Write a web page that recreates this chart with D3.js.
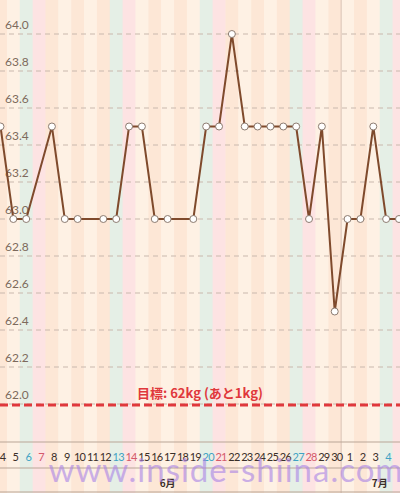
<!DOCTYPE html>
<html><head><meta charset="utf-8">
<script src="https://cdn.jsdelivr.net/npm/d3@7"></script>
<style>body{margin:0;background:#fff}svg{display:block;font-family:"Noto Sans CJK JP",sans-serif}</style>
</head><body>
<svg id="chart" width="400" height="493"></svg>
<script>
// day slots from 6/4 to 7/5
const days = ["4","5","6","7","8","9","10","11","12","13","14","15","16","17","18","19","20","21","22","23","24","25","26","27","28","29","30","1","2","3","4","5"];
const dayKind = ["w","w","sat","sun","w","w","w","w","w","sat","sun","w","w","w","w","w","sat","sun","w","w","w","w","w","sat","sun","w","w","w","w","w","sat","sun"];
const weights = [63.5,63.0,63.0,null,63.5,63.0,63.0,null,63.0,63.0,63.5,63.5,63.0,63.0,null,63.0,63.5,63.5,64.0,63.5,63.5,63.5,63.5,63.5,63.0,63.5,62.5,63.0,63.0,63.5,63.0,63.0];
const yTicks = [62.0,62.2,62.4,62.6,62.8,63.0,63.2,63.4,63.6,63.8,64.0];
const goal = 62.0;
const months = [{label:"6月", at:13}, {label:"7月", at:29.5}];

const svg = d3.select("#chart");
const x = d3.scaleLinear().domain([0, 31]).range([0.5, 399]);
const y = d3.scaleLinear().domain([62, 64]).range([404, 34]);
const step = x(1) - x(0);

const fills = {w: ["#fde7d6", "#fef1e4"], sat: ["#e5efe6"], sun: ["#fde3e3"]};
svg.append("g").selectAll("rect").data(days).join("rect")
  .attr("x", (d, i) => x(i) - step / 2).attr("y", 0)
  .attr("width", step + 0.5).attr("height", 493)
  .attr("fill", (d, i) => dayKind[i] === "w" ? fills.w[i % 2] : fills[dayKind[i]][0]);

// grid
svg.append("g").selectAll("line").data(yTicks).join("line")
  .attr("x1", 0).attr("x2", 400).attr("y1", d => y(d)).attr("y2", d => y(d))
  .attr("stroke", "#c9b8ad").attr("stroke-dasharray", "5,4").attr("stroke-width", 1);
svg.append("g").selectAll("text").data(yTicks).join("text")
  .attr("x", 5).attr("y", d => y(d) - 5)
  .attr("font-size", 12).attr("fill", "#7d6a5c").attr("font-family", "Lato, sans-serif")
  .text(d => d.toFixed(1));

// month separator
svg.append("line").attr("x1", x(26.5)).attr("x2", x(26.5)).attr("y1", 0).attr("y2", 493)
  .attr("stroke", "#d8c2b5").attr("stroke-width", 1);

// goal
svg.append("line").attr("x1", 0).attr("x2", 400).attr("y1", y(goal) + 1).attr("y2", y(goal) + 1)
  .attr("stroke", "#e0383c").attr("stroke-width", 3).attr("stroke-dasharray", "8,4");
svg.append("text").attr("x", 200).attr("y", 398).attr("text-anchor", "middle")
  .attr("font-size", 13).attr("font-weight", "bold").attr("fill", "#e0383c")
  .text("目標: 62kg (あと1kg)");

// axis area
[442, 468, 492].forEach(v => svg.append("line").attr("x1", 0).attr("x2", 400)
  .attr("y1", v).attr("y2", v).attr("stroke", "#b9a596").attr("stroke-width", 1));
svg.append("g").selectAll("text").data(days.slice(0, 31)).join("text")
  .attr("x", (d, i) => x(i) + 2).attr("y", 461).attr("text-anchor", "middle")
  .attr("font-size", 11).attr("font-family", "Lato, sans-serif").attr("letter-spacing", -0.8)
  .attr("fill", (d, i) => dayKind[i] === "sat" ? "#3fa3c4" : dayKind[i] === "sun" ? "#d45a6a" : "#3a2e28")
  .text(d => d);
svg.append("g").selectAll("text").data(months).join("text")
  .attr("x", d => x(d.at)).attr("y", 487).attr("text-anchor", "middle")
  .attr("font-size", 10).attr("font-weight", "bold").attr("fill", "#3a2e28")
  .text(d => d.label);

// line + points
const pts = weights.map((v, i) => ({i, v})).filter(d => d.v !== null);
svg.append("path").datum(pts)
  .attr("d", d3.line().x(d => x(d.i)).y(d => y(d.v)))
  .attr("fill", "none").attr("stroke", "#7f4a2c").attr("stroke-width", 2);
svg.append("g").selectAll("circle").data(pts).join("circle")
  .attr("cx", d => x(d.i)).attr("cy", d => y(d.v)).attr("r", 3.5)
  .attr("fill", "#fff").attr("stroke", "#8c7b70").attr("stroke-width", 1);

// watermark
svg.append("text").attr("x", 226).attr("y", 482).attr("text-anchor", "middle")
  .attr("font-size", 33).attr("font-family", "Lato, sans-serif").attr("letter-spacing", 1)
  .attr("fill", "#a983e6").attr("opacity", 0.6)
  .text("www.inside-shiina.com");
</script>
</body></html>
